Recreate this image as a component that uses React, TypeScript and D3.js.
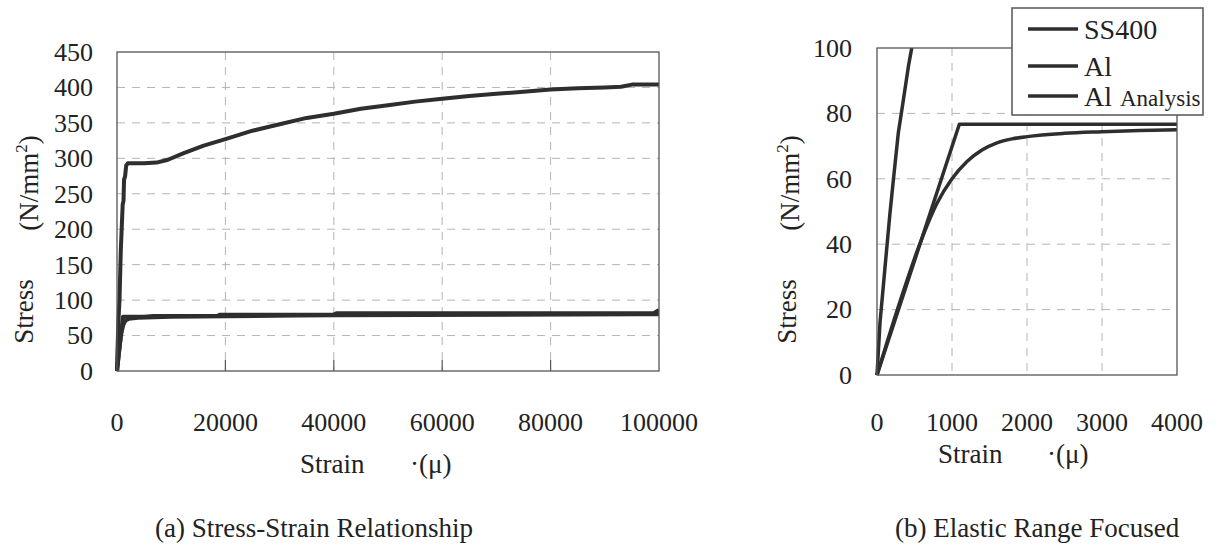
import React, { useEffect, useRef } from 'react';
import * as d3 from 'd3';

// SS400 measured curve (strain in micro, stress in N/mm2)
const ssStrain = [0, 40, 107, 173, 218, 284, 351, 418, 463, 700, 1050, 1200, 1300, 1500, 1700, 2000, 5000, 7300, 9400, 12200, 16000, 20000, 25000, 30000, 35000, 40000, 45000, 50000, 55000, 60000, 65000, 70000, 75000, 80000, 85000, 90000, 93000, 95000, 100000];
const ssStress = [0, 16, 33, 49.5, 59.6, 74, 84, 94.3, 100, 170, 235, 240, 270, 275, 290, 293, 293, 294, 298, 307, 318, 327, 339, 348, 357, 363, 370, 375, 380, 384, 388, 391, 394, 397, 399, 400, 401, 404, 404];

// Al measured curve
const alStrain = [0, 1098, 5000, 6700, 18500, 19000, 40000, 40500, 99000, 100000];
const alStress = [0, 76.7, 76.7, 77.5, 77.5, 79.5, 79.5, 81.5, 81.5, 86];

// Al analysis curve
const anStrain = [0, 300, 570, 800, 1000, 1200, 1400, 1600, 1800, 2000, 2500, 3000, 3500, 4000, 10000, 40000, 100000];
const anStress = [0, 22, 40, 52.5, 60, 65.3, 68.8, 71, 72.2, 72.9, 73.9, 74.4, 74.8, 75, 76.5, 78.5, 80];

const xTicksA = [0, 20000, 40000, 60000, 80000, 100000];
const yTicksA = [0, 50, 100, 150, 200, 250, 300, 350, 400, 450];
const xTicksB = [0, 1000, 2000, 3000, 4000];
const yTicksB = [0, 20, 40, 60, 80, 100];

const legendNames = ['SS400', 'Al', 'Al'];
const FONT = '"Liberation Serif", "Times New Roman", serif';
const INK = '#2e2e2e';

interface Panel {
    id: string;
    left: number; right: number; top: number; bottom: number;
    xTicks: number[]; yTicks: number[];
    yLabelRight: number;
    tickBaseline: number;
    stressX: number; unitX: number;
    strainX: number; muX: number; strainBaseline: number;
    caption: string; captionX: number;
    lineWidth: number;
    innerTicks: boolean;
}

const width = 1222;
const height = 548;

function drawPanel(svg: d3.Selection<SVGSVGElement, unknown, null, undefined>, p: Panel) {
    const x = d3.scaleLinear().domain([p.xTicks[0], p.xTicks[p.xTicks.length - 1]]).range([p.left, p.right]);
    const y = d3.scaleLinear().domain([p.yTicks[0], p.yTicks[p.yTicks.length - 1]]).range([p.bottom, p.top]);

    const g = svg.append('g');

    // grid
    g.selectAll('line.hg').data(p.yTicks.slice(1, -1)).enter().append('line')
        .attr('x1', p.left).attr('x2', p.right)
        .attr('y1', d => y(d)).attr('y2', d => y(d))
        .attr('stroke', '#b4b4b4').attr('stroke-dasharray', '8,7');
    g.selectAll('line.vg').data(p.xTicks.slice(1, -1)).enter().append('line')
        .attr('x1', d => x(d)).attr('x2', d => x(d))
        .attr('y1', p.top).attr('y2', p.bottom)
        .attr('stroke', '#b4b4b4').attr('stroke-dasharray', '8,7');
    if (p.innerTicks) {
        g.selectAll('line.tk').data(p.xTicks.slice(1, -1)).enter().append('line')
            .attr('x1', d => x(d)).attr('x2', d => x(d))
            .attr('y1', p.bottom - 11).attr('y2', p.bottom)
            .attr('stroke', '#555').attr('stroke-width', 1.2);
    }

    // clip
    const clipId = 'clip-' + p.id;
    svg.append('defs').append('clipPath').attr('id', clipId).append('rect')
        .attr('x', p.left - 3).attr('y', p.top)
        .attr('width', p.right - p.left + 3).attr('height', p.bottom - p.top + 3);

    const line = d3.line<[number, number]>().x(d => x(d[0])).y(d => y(d[1]));
    const series = [
        { xs: alStrain, ys: alStress, curve: d3.curveLinear },
        { xs: anStrain, ys: anStress, curve: d3.curveMonotoneX },
        { xs: ssStrain, ys: ssStress, curve: d3.curveLinear },
    ];
    series.forEach(s => {
        g.append('path')
            .datum(d3.zip(s.xs, s.ys) as [number, number][])
            .attr('clip-path', `url(#${clipId})`)
            .attr('fill', 'none')
            .attr('stroke', INK)
            .attr('stroke-width', p.lineWidth)
            .attr('stroke-linejoin', 'round')
            .attr('d', line.curve(s.curve));
    });

    // frame
    g.append('rect')
        .attr('x', p.left).attr('y', p.top)
        .attr('width', p.right - p.left).attr('height', p.bottom - p.top)
        .attr('fill', 'none').attr('stroke', '#555').attr('stroke-width', 1.3);

    // tick labels
    g.selectAll('text.yl').data(p.yTicks).enter().append('text')
        .attr('x', p.yLabelRight).attr('y', d => y(d)).attr('dy', '0.34em')
        .attr('text-anchor', 'end').attr('font-family', FONT).attr('font-size', 26).attr('fill', '#222')
        .text(d => String(d));
    g.selectAll('text.xl').data(p.xTicks).enter().append('text')
        .attr('x', d => x(d)).attr('y', p.tickBaseline)
        .attr('text-anchor', 'middle').attr('font-family', FONT).attr('font-size', 26).attr('fill', '#222')
        .text(d => String(d));

    // axis titles
    g.append('text')
        .attr('transform', `translate(${p.stressX},311.5) rotate(-90)`)
        .attr('text-anchor', 'middle').attr('font-family', FONT).attr('font-size', 27).attr('fill', '#222')
        .text('Stress');
    const unit = g.append('text')
        .attr('transform', `translate(${p.unitX},183) rotate(-90)`)
        .attr('text-anchor', 'middle').attr('font-family', FONT).attr('font-size', 27).attr('fill', '#222');
    unit.append('tspan').text('(N/mm');
    unit.append('tspan').attr('font-size', 17).attr('dy', -11).text('2');
    unit.append('tspan').attr('dy', 11).text(')');

    g.append('text')
        .attr('x', p.strainX).attr('y', p.strainBaseline)
        .attr('font-family', FONT).attr('font-size', 27).attr('fill', '#222')
        .text('Strain');
    g.append('text')
        .attr('x', p.muX).attr('y', p.strainBaseline)
        .attr('font-family', FONT).attr('font-size', 27).attr('fill', '#222')
        .text('·(μ)');

    g.append('text')
        .attr('x', p.captionX).attr('y', 537)
        .attr('font-family', FONT).attr('font-size', 27).attr('fill', '#222')
        .text(p.caption);
}

const App: React.FC = () => {
    const svgRef = useRef<SVGSVGElement>(null);

    useEffect(() => {
        if (!svgRef.current) return;
        const svg = d3.select(svgRef.current);
        svg.selectAll('*').remove();

        drawPanel(svg, {
            id: 'a', left: 117, right: 659, top: 52, bottom: 371,
            xTicks: xTicksA, yTicks: yTicksA,
            yLabelRight: 93, tickBaseline: 431,
            stressX: 33, unitX: 38,
            strainX: 300, muX: 410, strainBaseline: 473,
            caption: '(a) Stress-Strain Relationship', captionX: 155,
            lineWidth: 4, innerTicks: true,
        });

        drawPanel(svg, {
            id: 'b', left: 877, right: 1177, top: 48, bottom: 375,
            xTicks: xTicksB, yTicks: yTicksB,
            yLabelRight: 852, tickBaseline: 431,
            stressX: 796, unitX: 799,
            strainX: 938, muX: 1047, strainBaseline: 463,
            caption: '(b) Elastic Range Focused', captionX: 895,
            lineWidth: 3.5, innerTicks: false,
        });

        // legend
        const lg = svg.append('g');
        lg.append('rect')
            .attr('x', 1012).attr('y', 8).attr('width', 191).attr('height', 107)
            .attr('fill', '#fff').attr('stroke', '#555').attr('stroke-width', 1.5);
        const rows = [29, 66, 96];
        legendNames.forEach((name, i) => {
            lg.append('line')
                .attr('x1', 1028).attr('x2', 1078).attr('y1', rows[i]).attr('y2', rows[i])
                .attr('stroke', INK).attr('stroke-width', 3.5);
            lg.append('text')
                .attr('x', 1084).attr('y', rows[i] + 10)
                .attr('font-family', FONT).attr('font-size', 28).attr('fill', '#222')
                .text(name);
        });
        lg.append('text')
            .attr('x', 1120).attr('y', 106)
            .attr('font-family', FONT).attr('font-size', 23).attr('fill', '#222')
            .text('Analysis');
    }, []);

    return (
        <svg ref={svgRef} width={width} height={height}
            style={{ position: 'absolute', left: 0, top: 0, background: '#fff' }}></svg>
    );
};

export default App;
